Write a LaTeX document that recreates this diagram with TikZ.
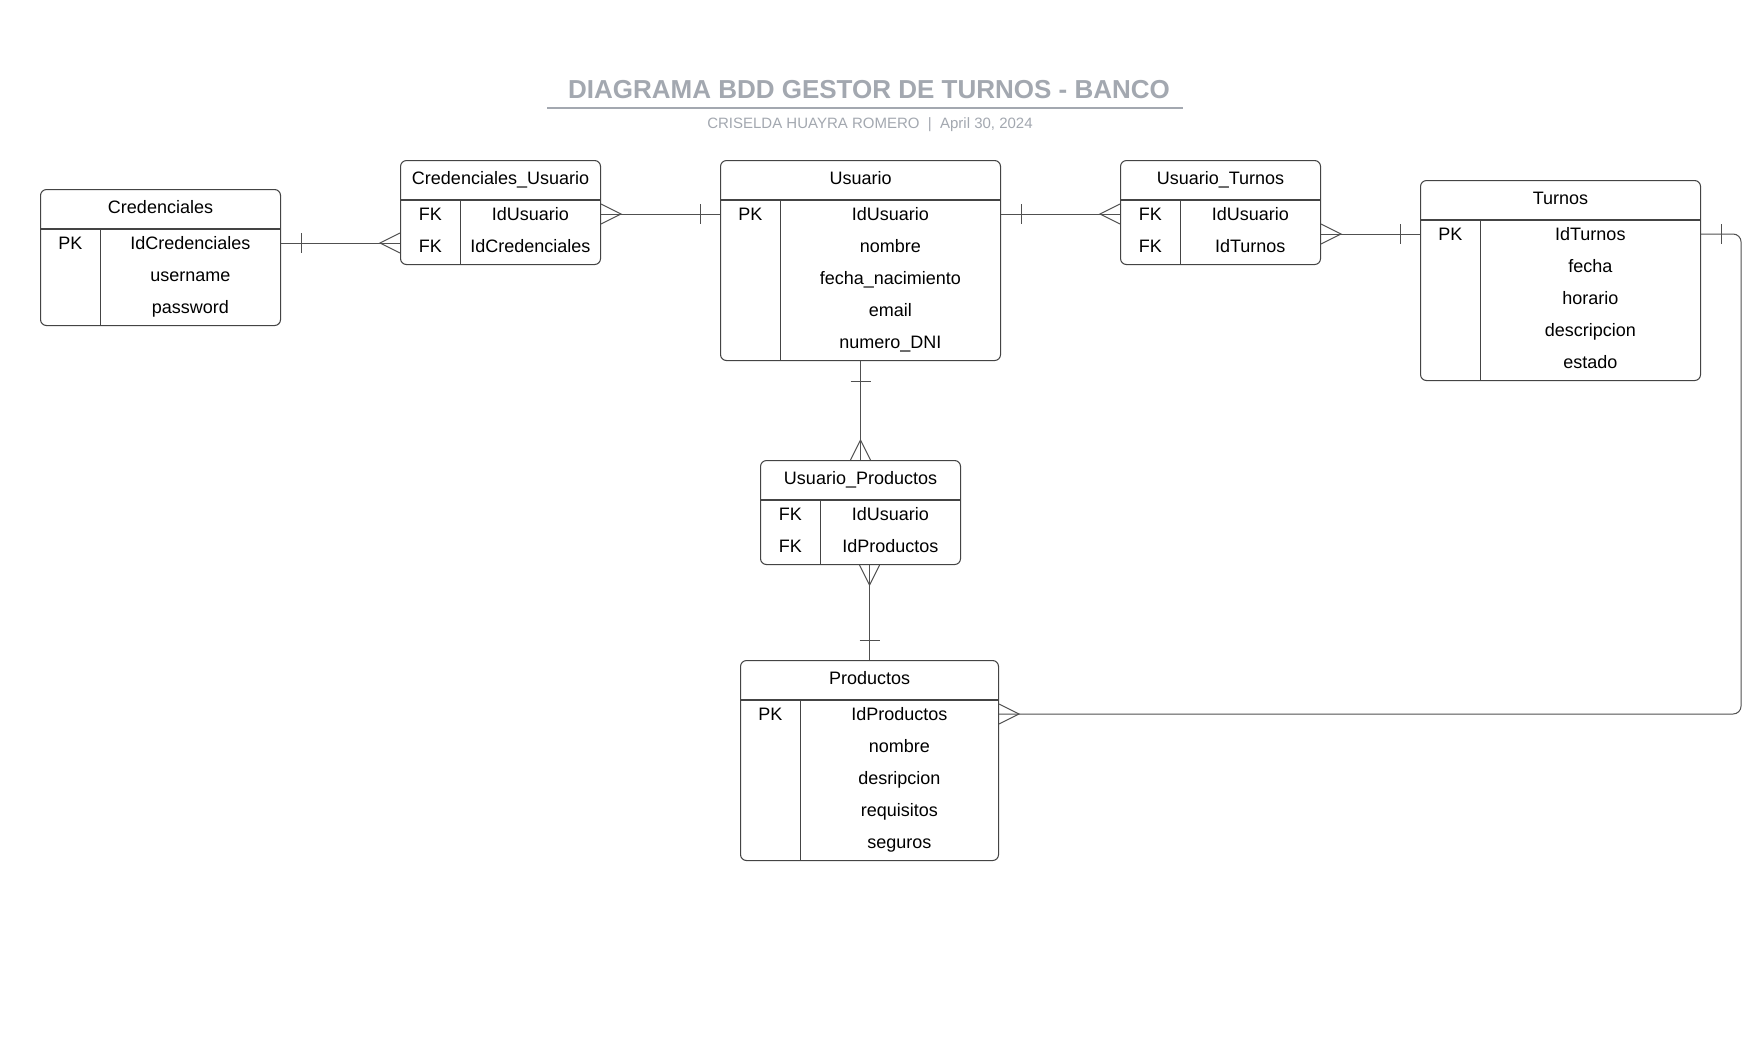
\documentclass[tikz,border=0pt]{standalone}
\usepackage{fontspec}
\setmainfont{Liberation Sans}
\usetikzlibrary{calc}
\definecolor{titlec}{HTML}{A3A8B0}
\definecolor{boxc}{HTML}{444444}
\definecolor{connc}{HTML}{505050}
\tikzset{
  tablebox/.style={draw=boxc, line width=1.05pt, rounded corners=6pt, inner sep=0pt, fill=white},
  boxline/.style={draw=boxc, line width=1.05pt},
  cell/.style={inner sep=0pt, text height=13pt, text depth=0pt, font=\fontsize{18}{22}\selectfont},
  conn/.style={draw=connc, line width=1pt},
}
\newcommand\ertable[7]{%
  \pgfmathsetmacro\erh{72+32*(#5-1)}%
  \pgfmathsetmacro\ervx{60.6+(#4-60.6)/2}%
  \node[tablebox, anchor=north west, minimum width=#4pt, minimum height=\erh pt] (#1) at (#2,#3) {};
  \draw[boxline] ($(#1.north west)+(0,40)$) -- ($(#1.north east)+(0,40)$);
  \draw[boxline] ($(#1.north west)+(60.6,40)$) -- ($(#1.south west)+(60.6,0)$);
  \node[cell] (#1-h) at ($(#1.north)+(0,17.8)$) {#6};
  \foreach \k/\v [count=\i] in {#7} {
    \node[cell] (#1-k\i) at ($(#1.north west)+(30.3,22+32*\i)$) {\k};
    \node[cell] (#1-r\i) at ($(#1.north west)+(\ervx,22+32*\i)$) {\v};
  }
}
\newcommand\tickH[2]{\draw[conn] ($(#1)+(#2*20,-10)$) -- ($(#1)+(#2*20,10)$);}
\newcommand\crowH[2]{\draw[conn] ($(#1)+(0,-10)$) -- ($(#1)+(#2*20,0)$) -- ($(#1)+(0,10)$);}
\newcommand\tickV[2]{\draw[conn] ($(#1)+(-10,#2*20)$) -- ($(#1)+(10,#2*20)$);}
\newcommand\crowV[2]{\draw[conn] ($(#1)+(-10,0)$) -- ($(#1)+(0,#2*20)$) -- ($(#1)+(10,0)$);}
\begin{document}
\begin{tikzpicture}[x=1pt,y=-1pt]
\fill[white] (0,0) rectangle (1760,1063);
\useasboundingbox (0,0) rectangle (1760,1063);

% title
\node[font=\fontsize{26}{30}\selectfont\bfseries, text=titlec, inner sep=0pt] (title) at (869,90) {DIAGRAMA BDD GESTOR DE TURNOS - BANCO};
\draw[draw=titlec, line width=2pt] (547,108) -- (1183,108);
\node[font=\fontsize{15}{18}\selectfont, text=titlec, inner sep=0pt] (subtitle) at (870,124.5) {CRISELDA HUAYRA ROMERO\ \ |\ \ April 30, 2024};

% tables
\ertable{cred}{40}{189}{240}{3}{Credenciales}{PK/IdCredenciales, {}/username, {}/password}
\ertable{cu}{400}{160}{200}{2}{Credenciales\_Usuario}{FK/IdUsuario, FK/IdCredenciales}
\ertable{usu}{720}{160}{280}{5}{Usuario}{PK/IdUsuario, {}/nombre, {}/fecha\_nacimiento, {}/email, {}/numero\_DNI}
\ertable{ut}{1120}{160}{200}{2}{Usuario\_Turnos}{FK/IdUsuario, FK/IdTurnos}
\ertable{tur}{1420}{180}{280}{5}{Turnos}{PK/IdTurnos, {}/fecha, {}/horario, {}/descripcion, {}/estado}
\ertable{up}{760}{460}{200}{2}{Usuario\_Productos}{FK/IdUsuario, FK/IdProductos}
\ertable{prod}{740}{660}{258}{5}{Productos}{PK/IdProductos, {}/nombre, {}/desripcion, {}/requisitos, {}/seguros}

% connectors
\coordinate (c1a) at (cred.east |- cred-r1);
\coordinate (c1b) at (cu.west |- cred-r1);
\draw[conn] (c1a) -- (c1b);
\tickH{c1a}{1}
\crowH{c1b}{-1}

\coordinate (c2a) at (cu.east |- cu-r1);
\coordinate (c2b) at (usu.west |- cu-r1);
\draw[conn] (c2a) -- (c2b);
\crowH{c2a}{1}
\tickH{c2b}{-1}

\coordinate (c3a) at (usu.east |- usu-r1);
\coordinate (c3b) at (ut.west |- usu-r1);
\draw[conn] (c3a) -- (c3b);
\tickH{c3a}{1}
\crowH{c3b}{-1}

\coordinate (c4a) at (ut.east |- tur-r1);
\coordinate (c4b) at (tur.west |- tur-r1);
\draw[conn] (c4a) -- (c4b);
\crowH{c4a}{1}
\tickH{c4b}{-1}

\coordinate (c5a) at (tur.east |- tur-r1);
\coordinate (c5b) at (prod.east |- prod-r1);
\draw[conn, rounded corners=8pt] (c5a) -- ++(40,0) |- (c5b);
\tickH{c5a}{1}
\crowH{c5b}{1}

\coordinate (c6a) at (usu.south);
\coordinate (c6b) at (up.north);
\draw[conn] (c6a) -- (c6b);
\tickV{c6a}{1}
\crowV{c6b}{-1}

\coordinate (c7a) at (up.south -| prod.north);
\coordinate (c7b) at (prod.north);
\draw[conn] (c7a) -- (c7b);
\crowV{c7a}{1}
\tickV{c7b}{-1}
\end{tikzpicture}
\end{document}
